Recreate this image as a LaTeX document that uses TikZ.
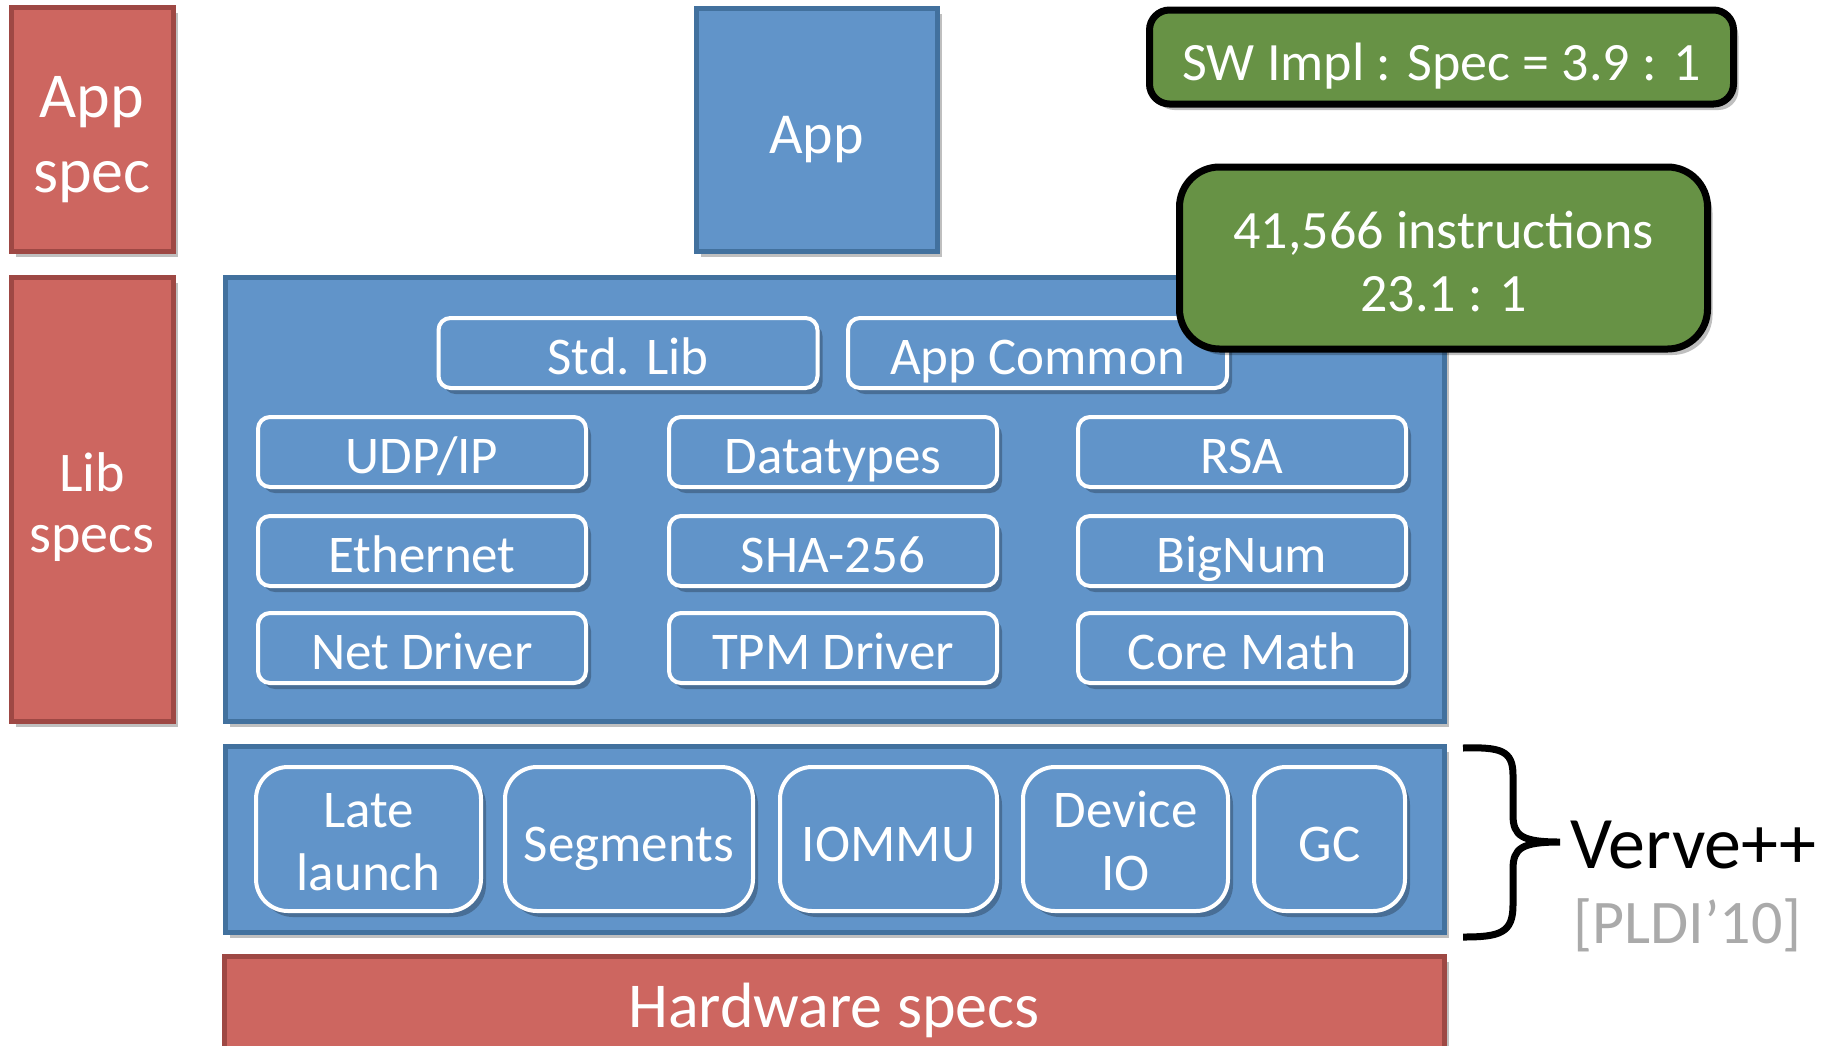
\documentclass[tikz,border=0pt]{standalone}
\usepackage{fontspec}
\setmainfont{Carlito}
\usetikzlibrary{shadows}
\definecolor{bfill}{RGB}{97,148,201}
\definecolor{bline}{RGB}{66,113,158}
\definecolor{rfill}{RGB}{205,102,96}
\definecolor{rline}{RGB}{158,72,68}
\definecolor{gfill}{RGB}{103,146,69}
\definecolor{gtext}{RGB}{170,170,170}
\newcommand{\topr}[1]{\rule{0pt}{#1}}
\newcommand{\botr}[1]{\rule[-#1]{0pt}{#1}}
\tikzset{
  shd/.style={drop shadow={shadow xshift=2.5pt,shadow yshift=-3pt,opacity=0.25,fill=black}},
  redbox/.style={shd,fill=rfill,draw=rline,line width=2.5pt,inner sep=0pt,text=white,align=center},
  bluebox/.style={shd,fill=bfill,draw=bline,line width=2.5pt,inner sep=0pt,text=white,align=center},
  subbox/.style={shd,fill=bfill,draw=white,line width=2pt,rounded corners=6pt,inner sep=0pt,text=white,align=center,
     font=\fontsize{26.5}{31.5}\selectfont},
  rowbox/.style={subbox,minimum width=164pt,minimum height=35pt,text height=24pt,text depth=3pt},
  vbox/.style={subbox,rounded corners=16pt,minimum height=72pt},
  vboxone/.style={vbox,text height=25pt,text depth=3pt},
  greenbox/.style={shd,fill=gfill,draw=black,line width=3.5pt,inner sep=0pt,text=white,align=center},
}
\begin{document}
\begin{tikzpicture}[x=0.5pt,y=-0.5pt]
\useasboundingbox (0,0) rectangle (1841,1045);
\clip (0,0) rectangle (1841,1045);
% left spec boxes
\node[redbox,minimum width=81pt,minimum height=122pt,font=\fontsize{32}{37.5}\selectfont] (appspec) at (92,129) {\topr{33.5pt}App\\spec\botr{8pt}};
\node[redbox,minimum width=81pt,minimum height=222pt,font=\fontsize{28}{30.5}\selectfont] (libspecs) at (92,499) {\topr{30.5pt}Lib\\specs\botr{8pt}};
% app
\node[bluebox,minimum width=120.5pt,minimum height=121.5pt,font=\fontsize{29}{34}\selectfont,text height=26.5pt,text depth=3pt] (app) at (816.5,129.5) {App};
% library box
\node[bluebox,minimum width=609.5pt,minimum height=222pt] (libbox) at (834.5,499) {};
\node[rowbox,minimum width=189.5pt] (stdlib) at (628,353) {Std. Lib};
\node[rowbox,minimum width=189.5pt] (appcommon) at (1037.5,353) {App Common};
\node[rowbox] (udp) at (422,452) {UDP/IP};
\node[rowbox] (datatypes) at (833,452) {Datatypes};
\node[rowbox] (rsa) at (1242,452) {RSA};
\node[rowbox] (ethernet) at (422,551) {Ethernet};
\node[rowbox] (sha) at (833,551) {SHA-256};
\node[rowbox] (bignum) at (1242,551) {BigNum};
\node[rowbox] (netdriver) at (422,648) {Net Driver};
\node[rowbox] (tpmdriver) at (833,648) {TPM Driver};
\node[rowbox] (coremath) at (1242,648) {Core Math};
% verve box
\node[bluebox,minimum width=609.5pt,minimum height=93pt] (vervebox) at (834.5,839) {};
\node[vbox,minimum width=112.5pt] (late) at (368.5,839) {\topr{26pt}Late\\launch\botr{6pt}};
\node[vboxone,minimum width=124pt] (segments) at (629,839) {Segments};
\node[vboxone,minimum width=108.5pt] (iommu) at (888.5,839) {IOMMU};
\node[vbox,minimum width=102.5pt] (deviceio) at (1125.5,839) {\topr{26pt}Device\\IO\botr{6pt}};
\node[vboxone,minimum width=75.5pt] (gc) at (1329.5,839) {GC};
% hardware
\node[redbox,minimum width=610pt,minimum height=56pt,font=\fontsize{32}{37}\selectfont,text height=24pt,text depth=9pt] (hw) at (834,1012) {Hardware specs};
% green boxes
\node[greenbox,rounded corners=10pt,minimum width=292pt,minimum height=47pt,font=\fontsize{27}{32}\selectfont,text height=26pt,text depth=3pt] (sw) at (1441.5,57) {SW Impl : Spec = 3.9 : 1};
\node[greenbox,rounded corners=20pt,minimum width=264pt,minimum height=91pt,font=\fontsize{27}{31.5}\selectfont] (instr) at (1443.5,258) {\topr{28.25pt}41,566 instructions\\23.1 : 1\botr{6pt}};
% brace
\coordinate (btop) at (1463,748);
\coordinate (btip) at (1560,842);
\coordinate (bbot) at (1463,937);
\draw[line width=3.5pt,line cap=butt] (btop) .. controls (1500,747) and (1513,750) .. (1513,775) -- (1513,815)
   .. controls (1513,836) and (1522,842) .. (btip)
   .. controls (1522,842) and (1513,848) .. (1513,869) -- (1513,905)
   .. controls (1513,933) and (1500,937) .. (bbot);
\node[anchor=base west,inner sep=0pt,font=\fontsize{37}{40}\selectfont] (verve) at (1570,868) {Verve++};
\node[anchor=base west,inner sep=0pt,text=gtext,font=\fontsize{31}{36}\selectfont] (pldi) at (1573,943) {[PLDI’10]};
\end{tikzpicture}
\end{document}
